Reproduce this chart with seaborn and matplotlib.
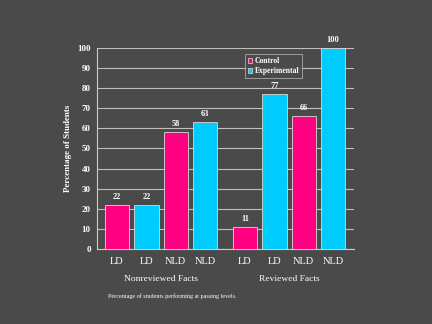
import matplotlib
matplotlib.use("Agg")
import matplotlib.pyplot as plt
import matplotlib.patches as mpatches
import seaborn as sns
import pandas as pd

# Bar data
positions = [0, 1, 2, 3, 4.35, 5.35, 6.35, 7.35]
bar_labels = ["LD", "LD", "NLD", "NLD", "LD", "LD", "NLD", "NLD"]
conditions = ["Control", "Experimental", "Control", "Experimental",
              "Control", "Experimental", "Control", "Experimental"]
percentages = [22, 22, 58, 63, 11, 77, 66, 100]
group_names = ["Nonreviewed Facts", "Reviewed Facts"]

bg = "#4a4a4a"
pink = "#ff0080"
cyan = "#00ccff"
fg = "#ffffff"
serif = ["Liberation Serif", "DejaVu Serif"]

sns.set_style("dark")
plt.rcParams["font.family"] = serif

df = pd.DataFrame({"pos": positions, "pct": percentages, "cond": conditions})

fig = plt.figure(figsize=(4.32, 3.24), dpi=100, facecolor=bg)
ax = fig.add_axes([0.2245, 0.2315, 0.595, 0.6204], facecolor=bg)

sns.barplot(data=df, x="pos", y="pct", hue="cond", native_scale=True,
            dodge=False, width=0.83, saturation=1,
            palette={"Control": pink, "Experimental": cyan},
            edgecolor="#d8d8d8", linewidth=0.6, legend=False, ax=ax, zorder=3)

for cont in ax.containers:
    ax.bar_label(cont, fmt="%d", padding=3, color=fg, fontsize=6,
                 fontweight="bold")

ax.set_xlim(-0.68, 8.06)
ax.set_ylim(0, 100)
ax.set_yticks(range(0, 101, 10))
ax.tick_params(axis="y", colors="#cccccc", labelcolor=fg, labelsize=6.5,
               length=2.5, width=0.6, pad=2)
for lab in ax.get_yticklabels():
    lab.set_fontweight("bold")
ax.grid(axis="y", color="#bfbfbf", linewidth=0.8, zorder=0)
ax.grid(axis="x", visible=False)

ax.set_xticks(positions)
ax.set_xticklabels(bar_labels, color=fg, fontsize=7.5)
ax.tick_params(axis="x", length=0, pad=6)
ax.set_xticks([-0.68, 3.675, 8.06], minor=True)
ax.tick_params(axis="x", which="minor", length=2.5, width=0.6, color="#cccccc")

for side in ["top", "right"]:
    ax.spines[side].set_visible(False)
for side in ["left", "bottom"]:
    ax.spines[side].set_visible(True)
    ax.spines[side].set_color("#cccccc")
    ax.spines[side].set_linewidth(0.8)

ax.set_xlabel("")
ax.set_ylabel("Percentage of Students", color=fg, fontsize=6.5,
              fontweight="bold", labelpad=4)

# Group captions under the bars
group_centres = [sum(positions[:4]) / 4, sum(positions[4:]) / 4]
for c, name in zip(group_centres, group_names):
    ax.text(c, -0.15, name, transform=ax.get_xaxis_transform(),
            ha="center", va="center", color=fg, fontsize=6.8)

fig.text(0.25, 0.085, "Percentage of students performing at passing levels.",
         color=fg, fontsize=4.4, ha="left", va="center")

handles = [mpatches.Patch(facecolor=pink, edgecolor="#dddddd", linewidth=0.5, label="Control"),
           mpatches.Patch(facecolor=cyan, edgecolor="#dddddd", linewidth=0.5, label="Experimental")]
leg = ax.legend(handles=handles, loc="upper left", bbox_to_anchor=(0.56, 0.99),
                frameon=True, fontsize=5.5, handlelength=0.6, handleheight=0.6,
                handletextpad=0.3, borderpad=0.4, labelspacing=0.3,
                facecolor=bg, edgecolor="#bfbfbf", fancybox=False)
leg.get_frame().set_linewidth(0.6)
for t in leg.get_texts():
    t.set_color(fg)
    t.set_fontweight("bold")

fig.savefig("out.png", dpi=100, facecolor=bg)
